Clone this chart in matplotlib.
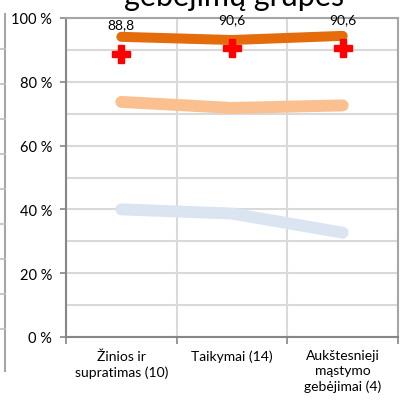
import matplotlib
matplotlib.use("Agg")
import matplotlib.pyplot as plt
from matplotlib.lines import Line2D

# data
categories = ["Žinios ir\nsupratimas (10)", "Taikymai (14)", "Aukštesnieji\nmąstymo\ngebėjimai (4)"]
top_line = [94.1, 93.1, 94.4]
upper_line = [73.7, 71.8, 72.6]
lower_line = [40.0, 38.7, 32.7]
marks = [88.8, 90.6, 90.6]
mark_labels = ["88,8", "90,6", "90,6"]
yticks = [0, 20, 40, 60, 80, 100]
title = "gebėjimų grupes"

plt.rcParams["font.family"] = ["Lato", "DejaVu Sans"]

fig = plt.figure(figsize=(4.04, 4.06), dpi=100)
ax = fig.add_axes([66 / 404, 68 / 406, 332 / 404, 319 / 406])

x = list(range(len(categories)))
ax.plot(x, lower_line, color="#DBE5F1", lw=8.6, solid_capstyle="round", solid_joinstyle="round", zorder=3)
ax.plot(x, upper_line, color="#FAC090", lw=8.6, solid_capstyle="round", solid_joinstyle="round", zorder=3)
ax.plot(x, top_line, color="#E46C0A", lw=7.2, solid_capstyle="round", solid_joinstyle="round", zorder=4)
ax.plot(x, marks, ls="none", marker="P", ms=13, color="#FF0000", mec="#FF0000", zorder=5)
for xi, v, lab in zip(x, marks, mark_labels):
    ax.annotate(lab, (xi, v), xytext=(0, 21), textcoords="offset points",
                ha="center", va="center", fontsize=10, color="#000000",
                annotation_clip=False, zorder=6)

ax.set_xlim(-0.5, 2.5)
ax.set_ylim(0, 100)

ax.set_yticks(yticks)
ax.set_yticklabels([f"{t} %" for t in yticks], fontsize=10.5)
ax.set_yticks(range(0, 101, 10), minor=True)
ax.tick_params(axis="y", which="major", length=4, width=1.2, color="#868686", pad=6)
ax.tick_params(axis="y", which="minor", length=0)

ax.set_xticks(x)
ax.set_xticklabels(categories, fontsize=10, linespacing=1.3)
ax.set_xticks([-0.5, 0.5, 1.5, 2.5], minor=True)
ax.tick_params(axis="x", which="major", length=0, pad=9)
ax.tick_params(axis="x", which="minor", length=5, width=1.2, color="#868686")

ax.grid(True, axis="y", which="both", color="#D9D9D9", lw=1.5, zorder=0)
ax.grid(True, axis="x", which="minor", color="#D9D9D9", lw=1.5, zorder=0)
ax.set_axisbelow(True)
for side in ["left", "bottom", "top", "right"]:
    ax.spines[side].set_color("#868686")
    ax.spines[side].set_linewidth(1.5)
ax.spines["top"].set_color("#A6A6A6")
ax.spines["right"].set_color("#A6A6A6")

# title is cut by the top edge, as in the reference
fig.text(234 / 404, 1 - 6 / 406, title, ha="center", va="baseline", fontsize=22, color="#000000")

# edge of the neighbouring chart on the left
fig.add_artist(Line2D([5 / 404, 5 / 404], [1 - 15 / 406, 1 - 372 / 406], color="#A6A6A6", lw=1.5))
for yp in range(50, 340, 35):
    fig.add_artist(Line2D([0, 5 / 404], [1 - yp / 406, 1 - yp / 406], color="#BFBFBF", lw=1.2))

fig.savefig("out.png", dpi=100)
